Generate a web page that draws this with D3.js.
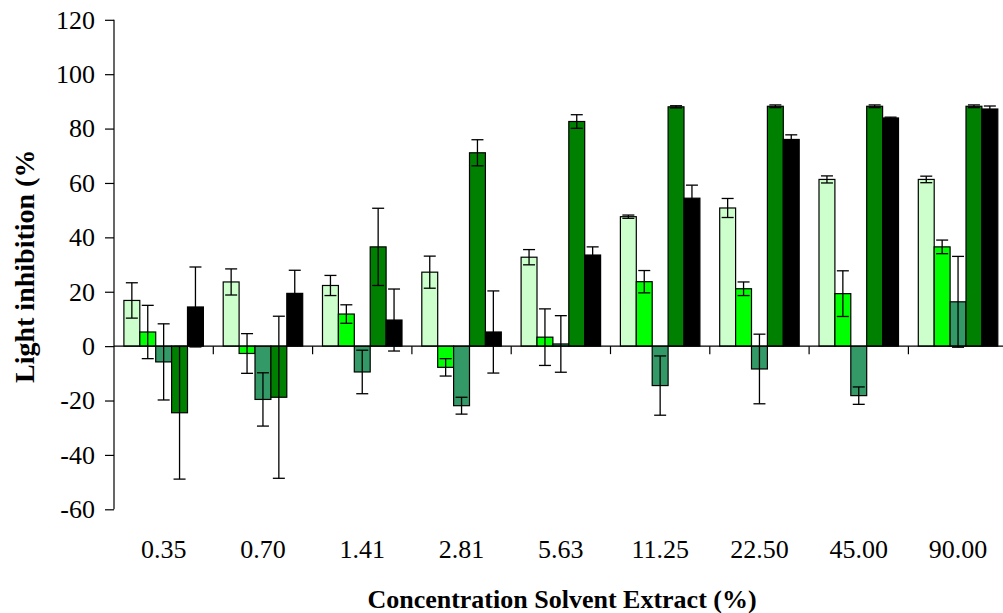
<!DOCTYPE html>
<html>
<head>
<meta charset="utf-8">
<script src="https://cdn.jsdelivr.net/npm/d3@7/dist/d3.min.js"></script>
<style>
  html, body { margin: 0; padding: 0; background: #fff; }
  svg { display: block; }
  text { font-family: "Liberation Serif", "Times New Roman", serif; fill: #000; }
</style>
</head>
<body>
<svg id="chart" width="1003" height="613"></svg>
<script>
// Extract concentrations (%) along the x axis
const categories = ["0.35", "0.70", "1.41", "2.81", "5.63", "11.25", "22.50", "45.00", "90.00"];

// Light inhibition (%) for each of the five series, with standard errors
const series1 = [16.8, 23.6, 22.3, 27.2, 32.7, 47.6, 50.8, 61.3, 61.3];
const error1  = [6.5, 4.8, 3.7, 5.9, 2.8, 0.6, 3.5, 1.3, 1.2];
const series2 = [5.2, -2.7, 11.8, -7.8, 3.3, 23.7, 21.1, 19.3, 36.5];
const error2  = [9.8, 7.3, 3.4, 3.2, 10.4, 4.1, 2.5, 8.4, 2.5];
const series3 = [-5.8, -19.6, -9.5, -21.9, 0.8, -14.5, -8.4, -18.2, 16.3];
const error3  = [14.0, 9.8, 8.0, 3.1, 10.4, 10.9, 12.8, 3.2, 16.7];
const series4 = [-24.5, -18.8, 36.5, 71.1, 82.6, 88.0, 88.2, 88.2, 88.2];
const error4  = [24.4, 29.8, 14.2, 4.8, 2.5, 0.4, 0.5, 0.5, 0.5];
const series5 = [14.4, 19.4, 9.6, 5.2, 33.5, 54.4, 76.0, 83.9, 87.2];
const error5  = [14.7, 8.5, 11.4, 15.1, 3.0, 4.8, 1.7, 0.3, 1.1];

const yTicks = [-60, -40, -20, 0, 20, 40, 60, 80, 100, 120];
const colors = ["#ccffcc", "#00ff00", "#339966", "#008000", "#000000"];

const seriesList = [
  { values: series1, errors: error1 },
  { values: series2, errors: error2 },
  { values: series3, errors: error3 },
  { values: series4, errors: error4 },
  { values: series5, errors: error5 }
];

const svg = d3.select("#chart");
const serif = "'Liberation Serif', 'Times New Roman', serif";

// Plot frame (the category band runs slightly past the right edge)
const plotLeft = 114, plotRight = 1007.7, plotTop = 19.8, plotBottom = 509.3;

const x = d3.scaleBand().domain(categories).range([plotLeft, plotRight]).paddingInner(0).paddingOuter(0);
const groupPad = x.bandwidth() * 0.0997;
const xs = d3.scaleBand().domain(d3.range(seriesList.length))
  .range([groupPad, x.bandwidth() - groupPad]).padding(0);
const y = d3.scaleLinear().domain([-60, 120]).range([plotBottom, plotTop]);

// Bars
const groups = svg.append("g").selectAll("g.cat")
  .data(categories)
  .join("g")
  .attr("class", "cat")
  .attr("transform", d => `translate(${x(d)},0)`);

seriesList.forEach((s, si) => {
  groups.append("rect")
    .attr("x", xs(si))
    .attr("width", xs.bandwidth())
    .attr("y", (d, i) => y(Math.max(0, s.values[i])))
    .attr("height", (d, i) => Math.abs(y(s.values[i]) - y(0)))
    .attr("fill", colors[si])
    .attr("stroke", "#000")
    .attr("stroke-width", 1.2);
});

// Error bars (symmetric, capped)
const capHalf = 6;
seriesList.forEach((s, si) => {
  groups.each(function (d, i) {
    const g = d3.select(this);
    const cx = xs(si) + xs.bandwidth() / 2;
    const hi = y(s.values[i] + s.errors[i]);
    const lo = y(s.values[i] - s.errors[i]);
    g.append("line").attr("x1", cx).attr("x2", cx).attr("y1", hi).attr("y2", lo)
      .attr("stroke", "#000").attr("stroke-width", 1.3);
    [hi, lo].forEach(yy => {
      g.append("line").attr("x1", cx - capHalf).attr("x2", cx + capHalf)
        .attr("y1", yy).attr("y2", yy)
        .attr("stroke", "#000").attr("stroke-width", 1.3);
    });
  });
});

// Y axis
const yAxis = d3.axisLeft(y).tickValues(yTicks).tickSize(9).tickPadding(10).tickFormat(d => String(d));
const yAxisG = svg.append("g").attr("transform", `translate(${plotLeft},0)`).call(yAxis)
  .attr("font-family", serif).attr("font-size", 26);
yAxisG.select(".domain").attr("stroke", "#000").attr("stroke-width", 1.2)
  .attr("d", `M0,${plotTop}V${plotBottom}`);
yAxisG.selectAll(".tick line").attr("stroke", "#000").attr("stroke-width", 1.2);
yAxisG.selectAll(".tick text").attr("fill", "#000");

// X axis along zero: boundary ticks, labels centred under each group
const xAxisG = svg.append("g").attr("transform", `translate(0,${y(0)})`);
xAxisG.append("line").attr("x1", plotLeft).attr("x2", plotRight).attr("y1", 0).attr("y2", 0)
  .attr("stroke", "#000").attr("stroke-width", 1.2);
xAxisG.selectAll("line.tick")
  .data(categories.slice(1))
  .join("line")
  .attr("class", "tick")
  .attr("x1", d => x(d)).attr("x2", d => x(d))
  .attr("y1", 0).attr("y2", 8)
  .attr("stroke", "#000").attr("stroke-width", 1.2);

svg.append("g").selectAll("text")
  .data(categories)
  .join("text")
  .attr("x", d => x(d) + x.bandwidth() / 2)
  .attr("y", 558)
  .attr("text-anchor", "middle")
  .attr("font-family", serif)
  .attr("font-size", 26)
  .text(d => d);

// Axis titles
svg.append("text")
  .attr("x", 562).attr("y", 608)
  .attr("text-anchor", "middle")
  .attr("font-family", serif)
  .attr("font-size", 26).attr("font-weight", "bold")
  .text("Concentration Solvent Extract (%)");

svg.append("clipPath").attr("id", "ytitle-clip")
  .append("rect").attr("x", 0).attr("y", 150).attr("width", 60).attr("height", 300);

svg.append("g")
  .attr("clip-path", "url(#ytitle-clip)")
  .append("text")
  .attr("transform", "translate(34,383) rotate(-90)")
  .attr("text-anchor", "start")
  .attr("font-family", serif)
  .attr("font-size", 28).attr("font-weight", "bold")
  .text("Light inhibition (%)");
</script>
</body>
</html>
